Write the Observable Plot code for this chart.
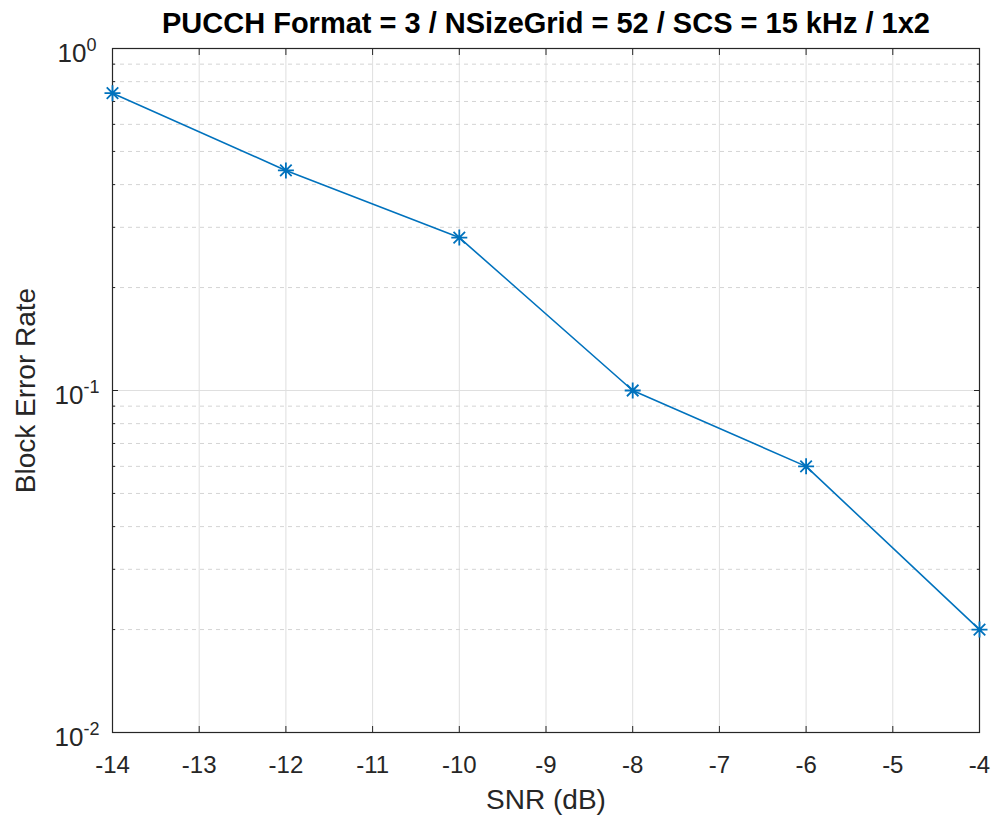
<!DOCTYPE html>
<html>
<head>
<meta charset="utf-8">
<script src="https://cdn.jsdelivr.net/npm/d3@7"></script>
<script src="https://cdn.jsdelivr.net/npm/@observablehq/plot@0.6"></script>
<style>
  html, body { margin: 0; padding: 0; background: #ffffff; }
  #chart svg { display: block; }
</style>
</head>
<body>
<div id="chart"></div>
<script>
// ---- data ----
const titleText = "PUCCH Format = 3 / NSizeGrid = 52 / SCS = 15 kHz / 1x2";
const xLabel = "SNR (dB)";
const yLabel = "Block Error Rate";
const snr = [-14, -12, -10, -8, -6, -4];
const bler = [0.74, 0.44, 0.28, 0.10, 0.06, 0.02];
const xTicks = [-14, -13, -12, -11, -10, -9, -8, -7, -6, -5, -4];
const yMajor = [0.01, 0.1, 1];
const yExponents = ["-2", "-1", "0"];
const yMinor = [0.02, 0.03, 0.04, 0.05, 0.06, 0.07, 0.08, 0.09,
                0.2, 0.3, 0.4, 0.5, 0.6, 0.7, 0.8, 0.9];

const points = snr.map((s, i) => ({snr: s, bler: bler[i]}));
const majorLabels = yMajor.map((v, i) => ({v, e: yExponents[i]}));

const axisColor = "#262626";
const lineColor = "#0072BD";

// MATLAB-style '*' marker: plus + times
const asterisk8 = {
  draw(context, size) {
    const r = Math.sqrt(size / Math.PI);
    const d = r * 0.72;
    context.moveTo(-r, 0); context.lineTo(r, 0);
    context.moveTo(0, -r); context.lineTo(0, r);
    context.moveTo(-d, -d); context.lineTo(d, d);
    context.moveTo(-d, d); context.lineTo(d, -d);
  }
};

const chart = Plot.plot({
  width: 992,
  height: 818,
  marginLeft: 112,
  marginRight: 13,
  marginTop: 48,
  marginBottom: 86,
  style: {fontFamily: "'Liberation Sans', Arial, sans-serif", color: axisColor, background: "#ffffff", overflow: "visible"},
  x: {domain: [-14, -4], axis: null, label: null},
  y: {type: "log", domain: [0.01, 1], axis: null, label: null},
  marks: [
    // grid
    Plot.ruleX(xTicks, {x: d => d, stroke: "#dfdfdf", strokeWidth: 1}),
    Plot.ruleY(yMinor, {y: d => d, stroke: "#d4d4d4", strokeWidth: 1, strokeDasharray: "4,4"}),
    Plot.ruleY(yMajor, {y: d => d, stroke: "#dfdfdf", strokeWidth: 1}),
    // ticks (inward)
    Plot.axisX({anchor: "bottom", ticks: xTicks, tickSize: -6, tickFormat: () => "", label: null, stroke: axisColor}),
    Plot.axisX({anchor: "top", ticks: xTicks, tickSize: -6, tickFormat: () => "", label: null, stroke: axisColor}),
    Plot.axisY({anchor: "left", ticks: yMajor, tickSize: -6, tickFormat: () => "", label: null, stroke: axisColor}),
    Plot.axisY({anchor: "right", ticks: yMajor, tickSize: -6, tickFormat: () => "", label: null, stroke: axisColor}),
    Plot.axisY({anchor: "left", ticks: yMinor, tickSize: -3, tickFormat: () => "", label: null, stroke: axisColor}),
    Plot.axisY({anchor: "right", ticks: yMinor, tickSize: -3, tickFormat: () => "", label: null, stroke: axisColor}),
    // x tick labels
    Plot.text(xTicks, {x: d => d, frameAnchor: "bottom", text: d => String(d), textAnchor: "middle", lineAnchor: "top", dy: 23, fontSize: 24, fill: axisColor}),
    // y tick labels (10^e), exponents set after render
    Plot.text(majorLabels, {y: "v", frameAnchor: "left", text: d => "10^" + d.e, textAnchor: "middle", lineAnchor: "middle", dx: -35.5, dy: 5, fontSize: 26, fill: axisColor}),
    // frame
    Plot.frame({stroke: axisColor, strokeWidth: 1.2}),
    // data
    Plot.line(points, {x: "snr", y: "bler", stroke: lineColor, strokeWidth: 1.6}),
    Plot.dot(points, {x: "snr", y: "bler", symbol: asterisk8, r: 8, fill: "none", stroke: lineColor, strokeWidth: 1.8}),
    // axis labels
    Plot.text([xLabel], {frameAnchor: "bottom", text: d => d, textAnchor: "middle", lineAnchor: "middle", dy: 68, fontSize: 28, fill: axisColor}),
    Plot.text([yLabel], {frameAnchor: "left", text: d => d, rotate: -90, textAnchor: "middle", lineAnchor: "middle", dx: -86, fontSize: 28, fill: axisColor}),
    // title
    Plot.text([titleText], {frameAnchor: "top", text: d => d, textAnchor: "middle", lineAnchor: "middle", dy: -25, fontSize: 29, fontWeight: "bold", fill: "#000000"})
  ]
});

// convert "10^e" labels into base + superscript tspans
d3.select(chart).selectAll("text")
  .filter(function() { return this.textContent.includes("^"); })
  .each(function() {
    const t = d3.select(this);
    const [base, exp] = t.text().split("^");
    t.text(base);
    t.append("tspan").attr("dy", "-11").attr("font-size", 18).text(exp);
  });

document.getElementById("chart").appendChild(chart);
</script>
</body>
</html>
